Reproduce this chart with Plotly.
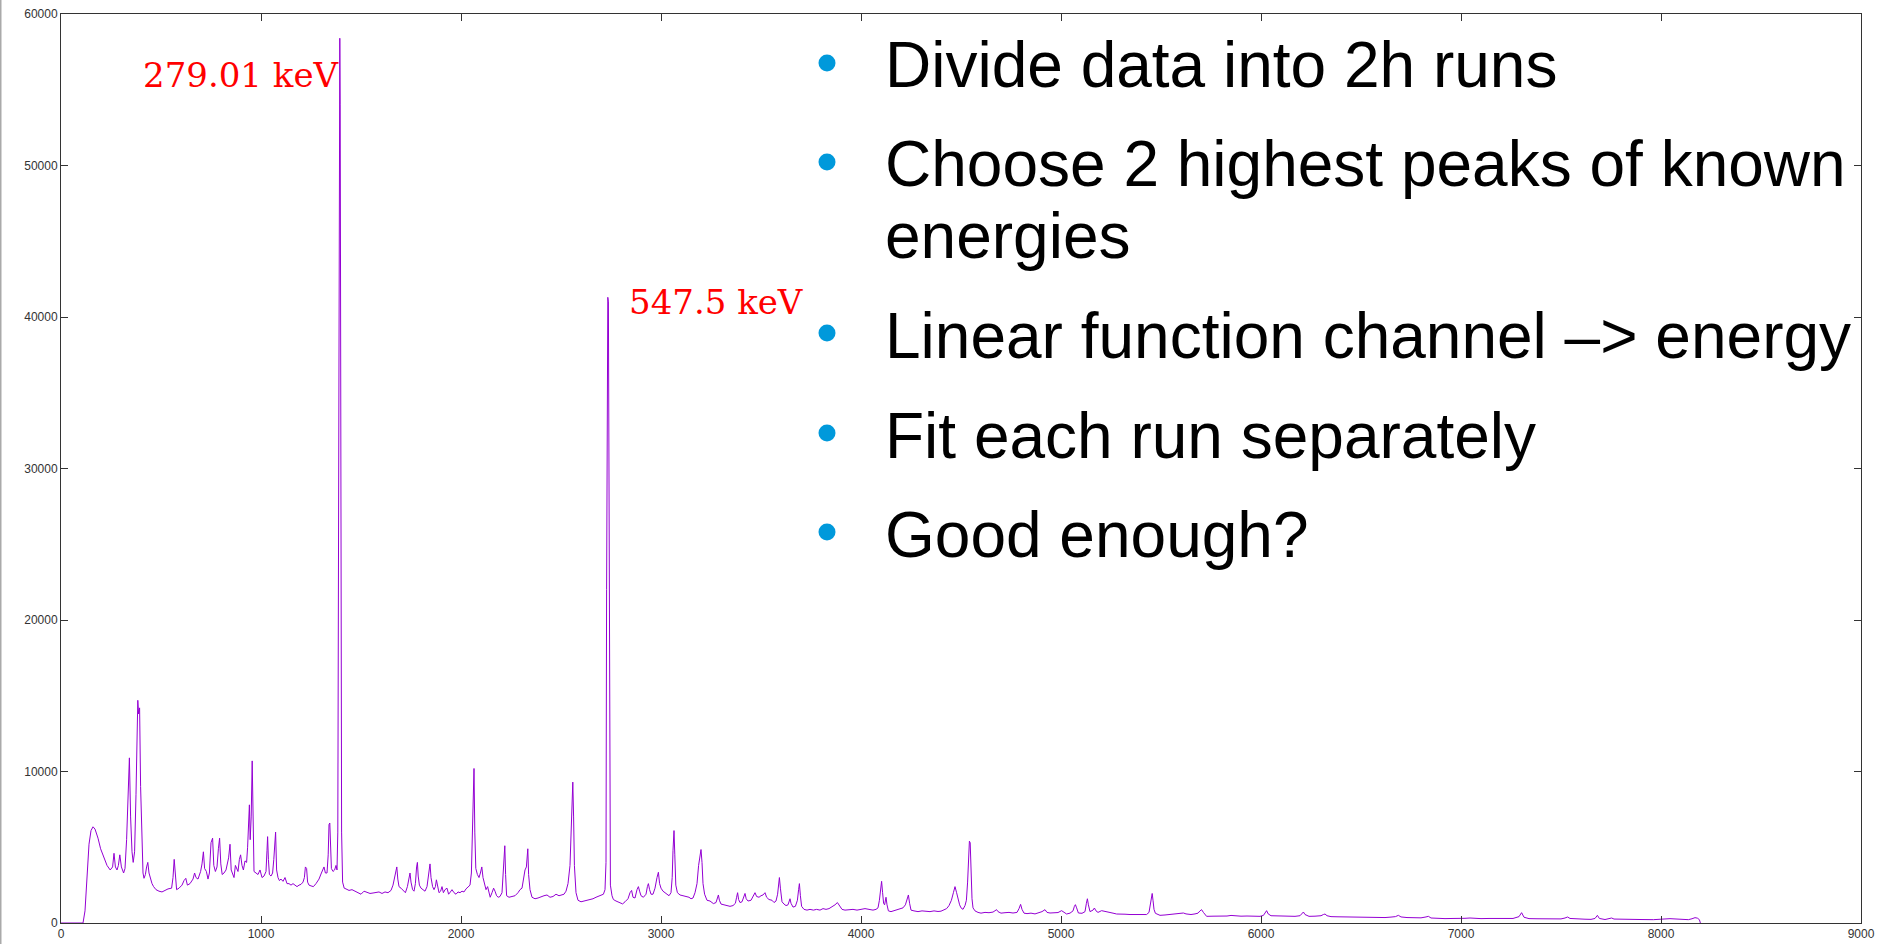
import plotly.graph_objects as go

# ---- data (channel, counts) ----
channels = [0,110,120,130,140,150,160,170,185,198,215,230,246,258,265,272,280,287,294,302,313,320,328,335,342,348,355,361,368,375,381,384,388,393,398,405,410,415,422,428,434,440,447,455,463,475,490,505,520,535,553,560,566,572,578,590,605,615,624,632,645,660,668,675,685,698,705,712,718,727,735,742,750,758,764,772,780,787,793,799,806,815,825,838,845,851,858,865,872,878,885,892,898,905,912,920,928,933,937,942,946,951,956,960,965,975,985,995,1005,1015,1025,1030,1033,1037,1042,1050,1058,1064,1069,1073,1078,1085,1092,1100,1110,1120,1130,1140,1150,1160,1170,1180,1190,1200,1210,1217,1222,1228,1233,1240,1250,1262,1275,1290,1302,1310,1315,1322,1330,1336,1340,1344,1348,1352,1360,1368,1375,1380,1384,1387,1390,1392,1394,1396,1398,1400,1403,1408,1416,1425,1440,1455,1470,1485,1500,1515,1530,1545,1560,1575,1590,1605,1620,1635,1650,1660,1668,1675,1679,1684,1690,1700,1712,1722,1732,1740,1745,1750,1758,1765,1772,1778,1782,1786,1792,1800,1812,1820,1830,1838,1845,1850,1858,1865,1872,1877,1882,1890,1898,1905,1912,1920,1930,1938,1947,1955,1965,1975,1985,1995,2005,2015,2025,2035,2045,2052,2057,2061,2065,2069,2074,2082,2090,2097,2104,2110,2118,2125,2133,2140,2146,2155,2163,2170,2178,2186,2195,2205,2212,2216,2219,2223,2228,2240,2255,2270,2285,2295,2305,2313,2320,2327,2334,2338,2345,2355,2370,2385,2400,2415,2430,2445,2460,2475,2490,2505,2515,2525,2535,2545,2551,2555,2559,2563,2567,2575,2585,2600,2615,2630,2645,2660,2675,2690,2700,2712,2720,2725,2728,2731,2734,2737,2740,2743,2747,2755,2762,2775,2790,2808,2820,2835,2845,2853,2860,2870,2880,2887,2893,2900,2912,2925,2932,2937,2943,2950,2960,2970,2980,2987,2993,3000,3010,3020,3030,3040,3050,3056,3060,3065,3069,3074,3082,3095,3110,3125,3140,3150,3160,3170,3180,3188,3195,3200,3205,3210,3218,3230,3245,3262,3275,3282,3287,3292,3300,3315,3330,3345,3360,3372,3378,3383,3388,3395,3405,3415,3420,3426,3435,3450,3462,3470,3478,3490,3500,3510,3520,3528,3540,3555,3565,3575,3583,3588,3592,3597,3605,3615,3625,3635,3640,3645,3650,3660,3672,3682,3688,3692,3697,3703,3715,3730,3745,3762,3778,3795,3810,3825,3840,3855,3870,3882,3892,3905,3920,3940,3960,3980,4000,4020,4040,4060,4075,4085,4092,4097,4103,4108,4113,4118,4125,4130,4137,4150,4165,4180,4195,4210,4222,4230,4237,4243,4250,4265,4285,4305,4325,4345,4365,4385,4400,4415,4428,4440,4452,4462,4470,4478,4486,4493,4500,4510,4520,4527,4533,4538,4542,4546,4550,4555,4560,4570,4585,4600,4620,4640,4660,4672,4678,4685,4700,4720,4740,4760,4780,4790,4798,4805,4815,4830,4850,4870,4890,4905,4920,4930,4945,4965,4985,5003,5015,5028,5045,5060,5067,5072,5078,5087,5105,5120,5127,5132,5137,5145,5160,5167,5175,5185,5203,5220,5240,5260,5278,5300,5320,5345,5370,5395,5415,5428,5440,5448,5452,5456,5460,5465,5472,5495,5520,5545,5565,5585,5600,5612,5625,5650,5670,5685,5695,5703,5712,5728,5760,5800,5830,5850,5870,5900,5930,5960,5995,6012,6020,6028,6036,6050,6080,6110,6140,6170,6195,6205,6212,6220,6240,6270,6300,6312,6320,6330,6350,6380,6420,6460,6500,6540,6562,6590,6620,6650,6672,6687,6700,6730,6760,6800,6825,6837,6850,6880,6920,6960,6995,7020,7045,7070,7100,7140,7180,7228,7260,7290,7303,7315,7340,7380,7420,7460,7500,7520,7533,7545,7580,7620,7650,7670,7682,7692,7720,7745,7753,7765,7800,7850,7900,7962,8000,8020,8045,8080,8110,8137,8155,8170,8182,8192,8197]
counts = [0,0,800,3000,5200,6100,6350,6200,5600,4900,4300,3800,3500,3700,4600,3700,3500,3800,4500,3700,3300,3600,5500,7800,10900,7000,4700,4000,4700,8500,13000,14700,13800,14200,9000,4200,3300,2950,3200,3700,4000,3300,2900,2600,2400,2200,2100,2050,2150,2250,2300,3000,4200,3000,2200,2300,2500,2800,2950,2500,2600,2900,3300,3000,2900,3400,3900,4700,3600,3400,2900,3300,5300,5600,3800,3400,3700,4900,5600,3900,3200,3300,3500,4300,5200,3500,3300,3000,3800,3600,3400,4200,4500,3800,3500,4100,4000,5000,6700,7800,5500,7000,10700,6000,3400,3300,3200,3500,3000,3100,3400,4800,5700,4200,3200,3100,3300,4200,5800,6000,3500,3000,2800,2900,2750,3000,2600,2600,2500,2600,2500,2400,2500,2550,2700,3000,3700,3600,2700,2500,2450,2400,2600,2900,3300,3600,3700,3300,3300,4500,6500,6600,5000,3600,3400,3500,3800,3500,6000,20000,40000,54500,58400,54000,40000,20000,6000,2700,2300,2250,2150,2200,2100,2000,1900,2100,2050,1950,1980,2000,2050,1950,2050,2000,2150,2500,3000,3500,3700,2900,2400,2300,2100,2000,2400,3100,3300,2700,2200,2100,2600,3700,4000,3100,2500,2300,2200,2100,2400,3100,3900,3000,2400,2200,2400,2850,2400,2000,2100,2400,2000,2200,2300,1900,2050,2200,2000,1900,2050,2000,2100,2050,2250,2400,2500,3300,5800,8000,10200,6000,3600,3200,3000,3300,3700,3000,2500,2200,2400,1900,1700,2000,2300,2100,1800,1700,1750,2000,3500,4800,5100,3200,1800,1700,1750,1800,2000,2200,2300,2900,3500,3700,4900,3200,2200,1700,1600,1650,1700,1800,1850,1700,1750,1900,1800,1850,1900,2100,2600,3800,6000,8400,9300,7000,3800,2000,1500,1400,1450,1500,1500,1600,1700,1800,1850,1900,2200,4000,22000,35000,41300,41000,30000,10000,2500,1800,1550,1450,1350,1260,1400,1600,2000,2150,1700,1650,2200,2400,2100,1800,1700,1900,2400,2600,2200,1900,1900,2300,3000,3350,2600,2300,2100,2000,1900,1800,2000,3000,4800,6100,4500,2500,2000,1850,1800,1750,1700,1600,1650,2000,2600,3800,4600,4850,4000,2600,1900,1500,1450,1280,1350,1650,1850,1500,1250,1200,1150,1100,1150,1300,1700,2000,1550,1350,1400,1700,1950,1600,1450,1500,1800,2000,1750,1700,1800,1850,2000,1700,1550,1500,1350,1450,1900,2600,3000,2300,1400,1250,1150,1200,1400,1600,1300,1050,1100,1500,2200,2600,1800,1100,900,850,900,850,900,850,950,900,950,1050,1200,1350,1150,900,850,880,900,850,880,950,900,850,900,1000,1500,2300,2750,2000,1300,1200,1700,1200,800,750,800,850,900,1000,1200,1500,1850,1300,850,800,750,800,780,750,800,760,780,850,950,1150,1500,2000,2400,2000,1500,1200,1000,900,1150,1500,2700,4300,5400,5300,3500,1600,1000,800,700,650,700,680,720,850,880,750,650,680,700,660,700,950,1230,900,650,620,650,600,700,750,880,700,660,700,690,814,700,594,650,800,1100,1210,1000,660,640,750,1300,1600,1200,750,850,990,800,700,814,750,700,650,594,600,580,560,570,560,540,560,700,1400,1800,1950,1500,900,640,506,530,560,590,600,620,660,600,560,600,650,800,880,700,440,450,440,460,500,470,450,460,440,440,500,700,814,600,480,470,450,440,440,480,600,726,560,440,450,480,560,594,480,420,410,400,380,370,360,330,340,360,390,420,506,400,360,330,340,400,440,330,300,290,300,286,310,330,300,290,300,290,286,300,420,682,380,290,280,290,280,270,330,396,300,260,250,240,300,506,300,230,300,330,260,240,230,230,220,260,280,286,260,230,220,280,352,320,220,0]

x_ticks = [0, 1000, 2000, 3000, 4000, 5000, 6000, 7000, 8000, 9000]
y_ticks = [0, 10000, 20000, 30000, 40000, 50000, 60000]

peak_labels = ["279.01 keV", "547.5 keV"]
bullet_lines = [
    ["Divide data into 2h runs"],
    ["Choose 2 highest peaks of known", "energies"],
    ["Linear function channel \u2013> energy"],
    ["Fit each run separately"],
    ["Good enough?"],
]

W, H = 1882, 944
L, R, T, B = 61, 21, 14, 21
PW, PH = W - L - R, H - T - B


def px(xp):
    return (xp - L) / PW


def py(yp):
    return (H - B - yp) / PH


fig = go.Figure()
fig.add_trace(go.Scatter(
    x=channels, y=counts, mode="lines",
    line=dict(color="#9400D3", width=1),
    hoverinfo="skip", showlegend=False,
))

annotations = []
# red peak labels
label_pos = [(141, 75), (627, 302)]
for txt, (xp, yp) in zip(peak_labels, label_pos):
    annotations.append(dict(
        text=txt, xref="paper", yref="paper", x=px(xp), y=py(yp),
        xanchor="left", yanchor="middle", showarrow=False,
        font=dict(family="DejaVu Serif", size=34, color="#ff0000"),
    ))

# bullet text
line_centers = [[65], [164, 236], [336], [436], [535]]
bullet_centers = [63, 162, 333, 433, 532]
shapes = []
for lines, centers, bc in zip(bullet_lines, line_centers, bullet_centers):
    for t, c in zip(lines, centers):
        annotations.append(dict(
            text=t, xref="paper", yref="paper", x=px(883), y=py(c),
            xanchor="left", yanchor="middle", showarrow=False,
            font=dict(family="Liberation Sans, Arial, sans-serif", size=64, color="#000000"),
        ))
    shapes.append(dict(
        type="circle", xref="paper", yref="paper",
        xsizemode="pixel", ysizemode="pixel",
        xanchor=px(827), yanchor=py(bc),
        x0=-8.5, x1=8.5, y0=-8.5, y1=8.5,
        fillcolor="#0099DB", line=dict(width=0),
    ))

# slide border at far left
shapes.append(dict(
    type="line", xref="paper", yref="paper",
    x0=px(0.5), x1=px(0.5), y0=py(H), y1=py(0),
    line=dict(color="#aaaaaa", width=2),
))

axis_common = dict(
    showline=True, linecolor="#333333", linewidth=1, mirror="ticks",
    ticks="inside", ticklen=7, tickcolor="#333333", tickwidth=1,
    showgrid=False, zeroline=False, automargin=False,
    tickfont=dict(family="Liberation Sans, Arial, sans-serif", size=12, color="#333333"),
)

fig.update_layout(
    width=W, height=H, autosize=False,
    margin=dict(l=L, r=R, t=T, b=B, pad=0, autoexpand=False),
    paper_bgcolor="white", plot_bgcolor="white",
    xaxis=dict(range=[0, 9000], tickvals=x_ticks, ticktext=[str(v) for v in x_ticks], **axis_common),
    yaxis=dict(range=[0, 60000], tickvals=y_ticks, ticktext=[str(v) for v in y_ticks], **axis_common),
    annotations=annotations,
    shapes=shapes,
)

fig.write_html("out.html", config={"displayModeBar": False})
